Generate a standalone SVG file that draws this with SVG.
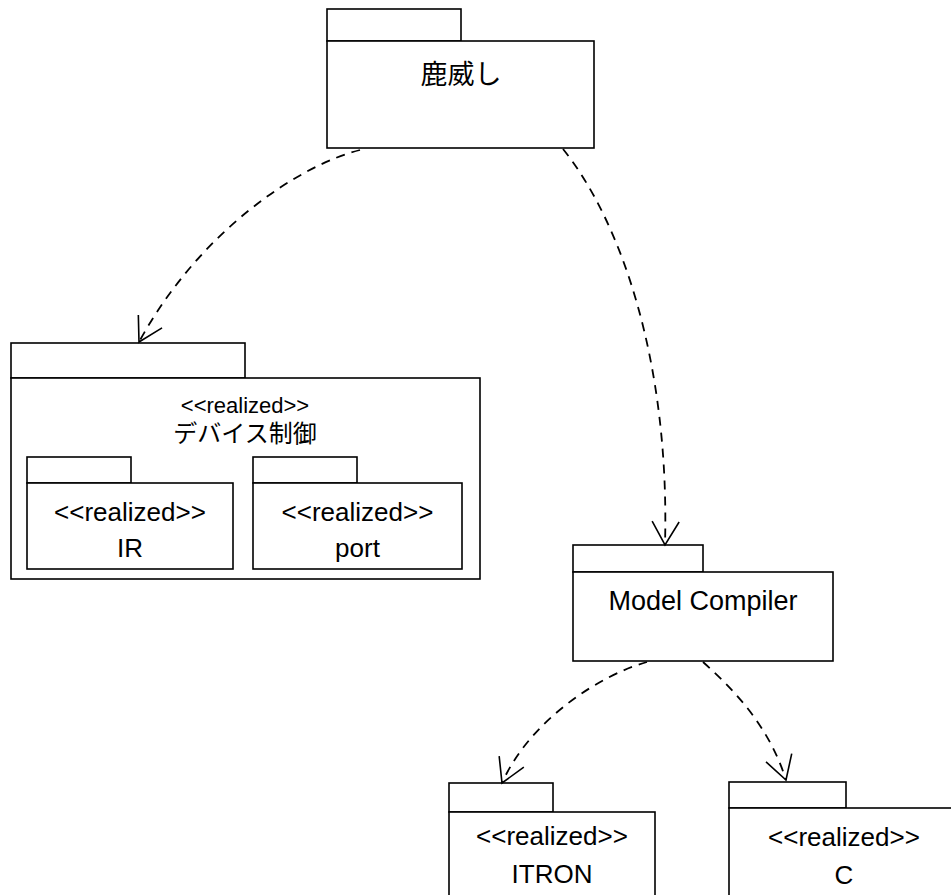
<svg xmlns="http://www.w3.org/2000/svg" width="951" height="895" viewBox="0 0 951 895">
<style>
.box{fill:#fff;stroke:#000;stroke-width:1.6}
.t{font-family:"Liberation Sans","Noto Sans CJK JP",Arial,sans-serif;fill:#000;text-anchor:middle}
.dep{fill:none;stroke:#000;stroke-width:1.8;stroke-dasharray:9,7}
</style>
<defs>
<marker id="open" markerUnits="userSpaceOnUse" markerWidth="40" markerHeight="40" viewBox="-30 -20 40 40" refX="0" refY="0" orient="auto">
<path d="M-23.4,-13.5 L0,0 L-23.4,13.5" fill="none" stroke="#000" stroke-width="1.6"/>
</marker>
</defs>
<rect width="951" height="895" fill="#fff"/>
<g id="pkg-shishiodoshi">
<rect class="box" x="327" y="9" width="134" height="32"/>
<rect class="box" x="327" y="41" width="267" height="107"/>
<text class="t" x="461" y="84" font-size="27">鹿威し</text>
</g>
<g id="pkg-device">
<rect class="box" x="11" y="343" width="234" height="35"/>
<rect class="box" x="11" y="378" width="469" height="201"/>
<text class="t" x="245" y="413" font-size="22">&lt;&lt;realized&gt;&gt;</text>
<text class="t" x="245" y="442" font-size="24">デバイス制御</text>
</g>
<g id="pkg-ir">
<rect class="box" x="27" y="457" width="104" height="26"/>
<rect class="box" x="27" y="483" width="206" height="86"/>
<text class="t" x="130" y="521" font-size="26">&lt;&lt;realized&gt;&gt;</text>
<text class="t" x="130" y="557" font-size="26">IR</text>
</g>
<g id="pkg-port">
<rect class="box" x="253" y="457" width="104" height="26"/>
<rect class="box" x="253" y="483" width="209" height="86"/>
<text class="t" x="357.5" y="521" font-size="26">&lt;&lt;realized&gt;&gt;</text>
<text class="t" x="357.5" y="557" font-size="26">port</text>
</g>
<g id="pkg-model-compiler">
<rect class="box" x="573" y="545" width="130" height="27"/>
<rect class="box" x="573" y="572" width="260" height="89"/>
<text class="t" x="703" y="610" font-size="27">Model Compiler</text>
</g>
<g id="pkg-itron">
<rect class="box" x="449" y="783" width="104" height="29"/>
<rect class="box" x="449" y="812" width="206" height="100"/>
<text class="t" x="552" y="845" font-size="26">&lt;&lt;realized&gt;&gt;</text>
<text class="t" x="552" y="883" font-size="26">ITRON</text>
</g>
<g id="pkg-c">
<rect class="box" x="729" y="782" width="117" height="26"/>
<rect class="box" x="729" y="808" width="230" height="100"/>
<text class="t" x="844" y="846" font-size="26">&lt;&lt;realized&gt;&gt;</text>
<text class="t" x="844" y="884" font-size="26">C</text>
</g>
<g id="connectors">
<path class="dep" d="M360,150 C300,165 200,230 139,342" marker-end="url(#open)"/>
<path class="dep" d="M563,149 C620,220 670,360 665,545" marker-end="url(#open)"/>
<path class="dep" d="M647,662 C600,675 530,720 502,783" marker-end="url(#open)"/>
<path class="dep" d="M703,662 C740,695 770,730 786,780" marker-end="url(#open)"/>
</g>
</svg>
